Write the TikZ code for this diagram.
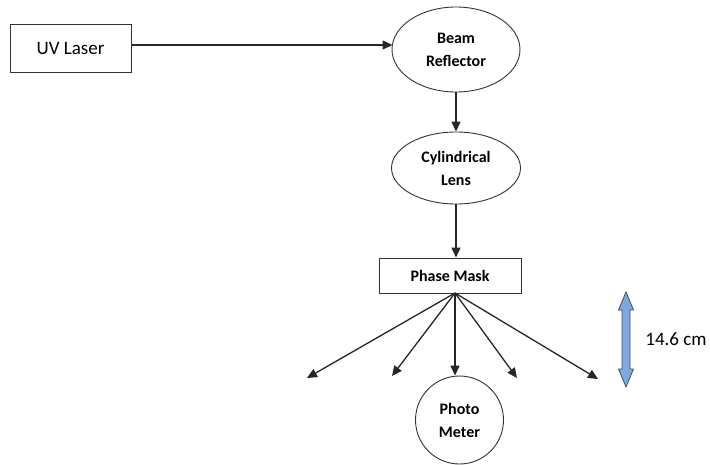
\documentclass[tikz,border=0pt]{standalone}
\usepackage{fontspec}
\setmainfont{Carlito}
\usetikzlibrary{arrows.meta,shapes.geometric}
\definecolor{arrowblue}{HTML}{7EA9DE}
\definecolor{arrowedge}{HTML}{3B5066}
\tikzset{
  box/.style={draw=black!80, line width=1pt, minimum width=#1, inner sep=0pt, align=center},
  oval/.style={draw=black!80, line width=0.9pt, ellipse, inner sep=0pt, align=center, font=\fontsize{16}{23}\selectfont\bfseries},
  conn/.style={line width=1.3pt, draw=black!85, -{Triangle[length=10pt,width=9pt]}},
}
\begin{document}
\begin{tikzpicture}[x=1pt,y=-1pt]
\useasboundingbox (0,0) rectangle (710,464);
% nodes
\node[box=121pt, minimum height=48pt, font=\fontsize{19}{22}\selectfont] (laser) at (70.5,48) {UV Laser};
\node[oval, minimum width=128pt, minimum height=85pt] (refl) at (456,49.5) {Beam\\Reflector};
\node[oval, minimum width=129pt, minimum height=72pt] (lens) at (456,168) {Cylindrical\\Lens};
\node[box=142pt, minimum height=35pt, font=\fontsize{16}{19}\selectfont\bfseries] (mask) at (450,275.5) {Phase Mask};
\node[draw=black!80, line width=0.9pt, circle, minimum size=88pt, inner sep=0pt, align=center, font=\fontsize{16}{23}\selectfont\bfseries] (meter) at (459.5,420) {Photo\\Meter};
\node[font=\fontsize{19}{22}\selectfont] (dist) at (676,339) {14.6 cm};
% connector end points
\coordinate (src) at (455,293);
\coordinate (e1) at (307,378);
\coordinate (e2) at (392,376);
\coordinate (e4) at (517,378);
\coordinate (e5) at (598,379);
\coordinate (lsrc) at (laser.east |- 0,45);
\coordinate (rin) at (392.5,45);
% connectors
\draw[conn] (lsrc) -- (rin);
\draw[conn] (refl.south) -- (lens.north);
\draw[conn] (lens.south) -- (lens.south |- mask.north);
\draw[conn] (src) -- (e1);
\draw[conn] (src) -- (e2);
\draw[conn] (src) -- (src |- meter.north);
\draw[conn] (src) -- (e4);
\draw[conn] (src) -- (e5);
% double arrow
\draw[draw=arrowedge, line width=0.8pt, fill=arrowblue, line join=miter]
  (626,292) -- (633.5,310) -- (630,310) -- (630,369) -- (633.5,369) -- (626,387)
  -- (618.5,369) -- (622,369) -- (622,310) -- (618.5,310) -- cycle;
\end{tikzpicture}
\end{document}
